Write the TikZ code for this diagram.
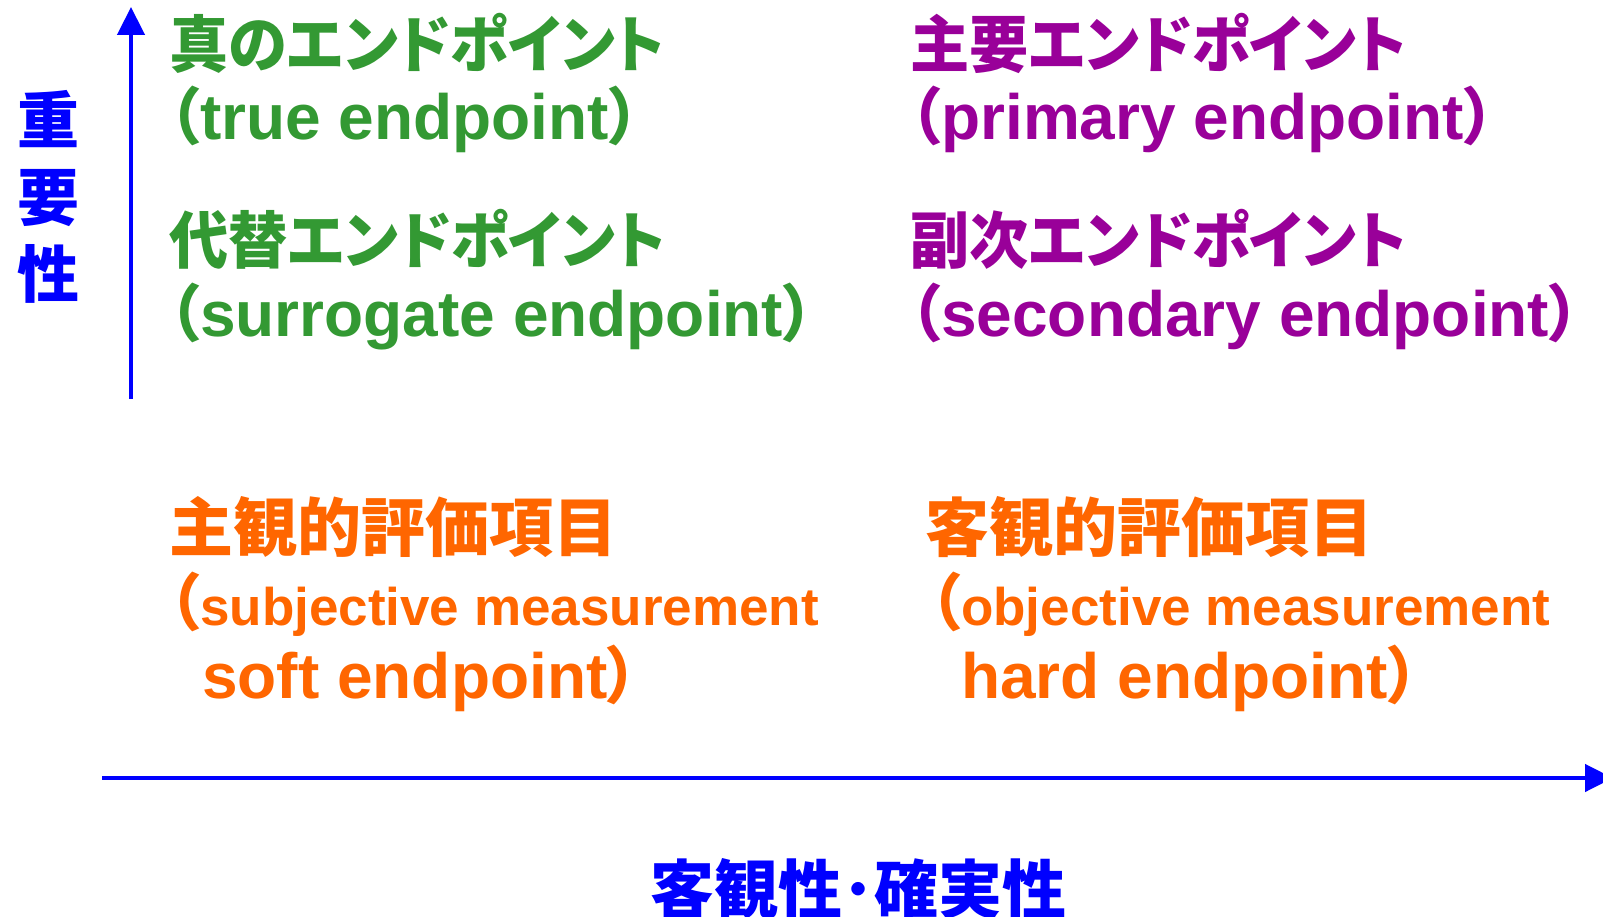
\documentclass[tikz,border=0pt]{standalone}
\usepackage{fontspec}
\setmainfont{Liberation Sans}
\newfontfamily\jp{Noto Sans CJK JP}[RawFeature=+palt]
\usetikzlibrary{arrows.meta}
\definecolor{tgreen}{HTML}{339933}
\definecolor{tpurple}{HTML}{990099}
\definecolor{torange}{HTML}{FF6600}
\definecolor{tblue}{HTML}{0000FF}
\newcommand\JPbig{\fontsize{62}{70}\selectfont\bfseries\jp}
\newcommand\JPhuge{\fontsize{64}{72}\selectfont\bfseries\jp}
\newcommand\LTbig{\fontsize{64}{72}\selectfont\bfseries}
\newcommand\LTmid{\fontsize{53}{60}\selectfont\bfseries}
\newcommand\kata[1]{\scalebox{0.955}[1]{#1}}
\newcommand\bigparen[1]{{\fontsize{62}{70}\selectfont\jp #1}}
\begin{document}
\begin{tikzpicture}[x=1pt,y=-1pt,
  lbl/.style={inner sep=0pt, anchor=base west},
  jpl/.style={lbl, font=\JPbig},
  jph/.style={lbl, font=\JPhuge},
  ltl/.style={lbl, font=\LTbig},
  ltm/.style={lbl, font=\LTmid},
  axis/.style={draw=tblue, line width=4.5pt, -{Triangle[length=28pt,width=27pt]}}]
\path[use as bounding box, fill=white] (0,0) rectangle (1603,917);
% axes
\coordinate (vb) at (131,399);
\coordinate (vt) at (131,7);
\coordinate (hl) at (102,778);
\coordinate (hr) at (1613,778);
\draw[axis] (vb) -- (vt);
\draw[axis] (hl) -- (hr);
% axis labels
\node[inner sep=0pt, anchor=base, font=\JPbig, text=tblue] (y1) at (48,144) {重};
\node[inner sep=0pt, anchor=base, font=\JPbig, text=tblue] (y2) at (48,221) {要};
\node[inner sep=0pt, anchor=base, font=\JPbig, text=tblue] (y3) at (48,298) {性};
\node[inner sep=0pt, anchor=base, font=\JPhuge, text=tblue] (xl) at (858,913) {客観性･確実性};
% green
\node[jpl, text=tgreen] (g1) at (169,68) {\kata{真のエンドポイント}};
\node[ltl, text=tgreen] (g2) at (169,140) {\bigparen{（}true endpoint\bigparen{）}};
\node[jpl, text=tgreen] (g3) at (169,264) {\kata{代替エンドポイント}};
\node[ltl, text=tgreen] (g4) at (169,336) {\bigparen{（}surrogate endpoint\bigparen{）}};
% purple
\node[jpl, text=tpurple] (p1) at (910,68) {\kata{主要エンドポイント}};
\node[ltl, text=tpurple] (p2) at (910,140) {\bigparen{（}primary endpoint\bigparen{）}};
\node[jpl, text=tpurple] (p3) at (910,264) {\kata{副次エンドポイント}};
\node[ltl, text=tpurple] (p4) at (910,336) {\bigparen{（}secondary endpoint\bigparen{）}};
% orange
\node[jph, text=torange] (o1) at (169,551) {主観的評価項目};
\node[ltm, text=torange] (o2) at (169,625) {\bigparen{（}subjective measurement};
\node[ltl, text=torange] (o3) at (202,698) {soft endpoint\bigparen{）}};
\node[jph, text=torange] (o4) at (925,551) {客観的評価項目};
\node[ltm, text=torange] (o5) at (930,625) {\bigparen{（}objective measurement};
\node[ltl, text=torange] (o6) at (961,698) {hard endpoint\bigparen{）}};
\end{tikzpicture}
\end{document}
